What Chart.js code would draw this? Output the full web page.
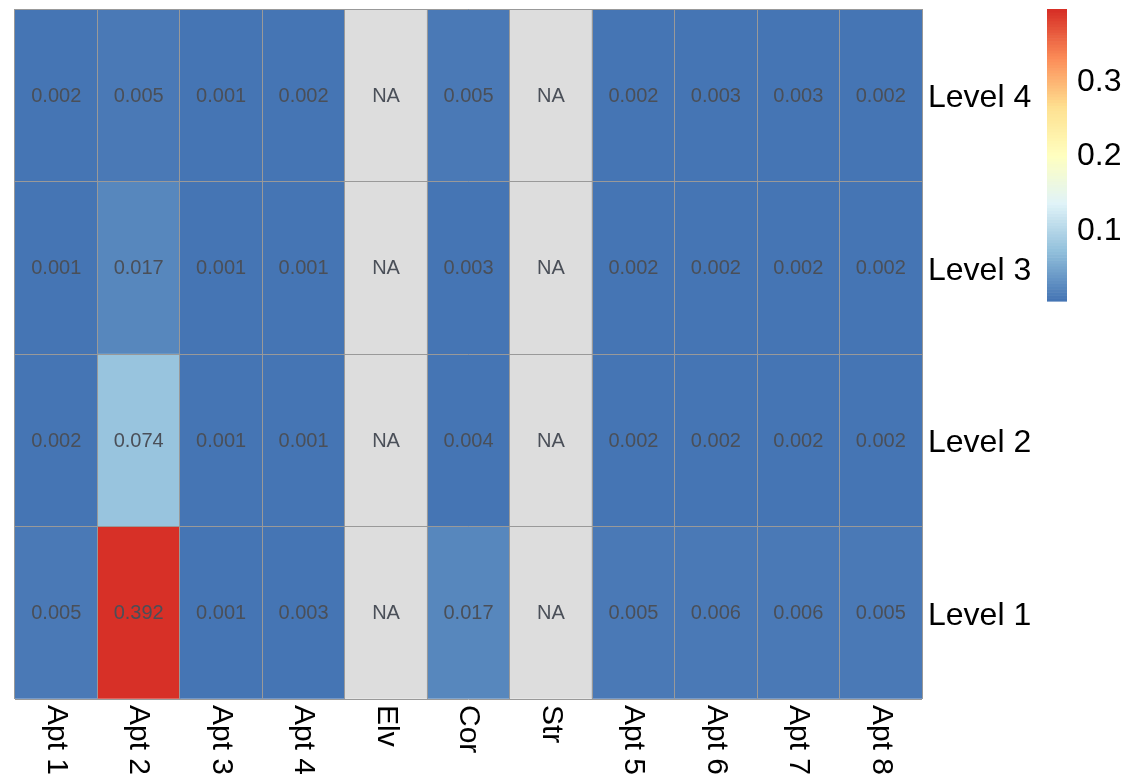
<!DOCTYPE html>
<html>
<head>
<meta charset="utf-8">
<script src="https://cdn.jsdelivr.net/npm/chart.js@4/dist/chart.umd.min.js"></script>
<style>
  html, body { margin: 0; padding: 0; background: #ffffff; }
  #wrap { width: 1127px; height: 783px; }
</style>
</head>
<body>
<div id="wrap"><canvas id="c" width="1127" height="783"></canvas></div>
<script>
// ---- data ----
const columns = ['Apt 1','Apt 2','Apt 3','Apt 4','Elv','Cor','Str','Apt 5','Apt 6','Apt 7','Apt 8'];
const rowLabels = ['Level 4','Level 3','Level 2','Level 1'];
const level4 = [0.002, 0.005, 0.001, 0.002, null, 0.005, null, 0.002, 0.003, 0.003, 0.002];
const level3 = [0.001, 0.017, 0.001, 0.001, null, 0.003, null, 0.002, 0.002, 0.002, 0.002];
const level2 = [0.002, 0.074, 0.001, 0.001, null, 0.004, null, 0.002, 0.002, 0.002, 0.002];
const level1 = [0.005, 0.392, 0.001, 0.003, null, 0.017, null, 0.005, 0.006, 0.006, 0.005];
const legendTicks = [0.1, 0.2, 0.3];

// ---- colour scale (reversed RdYlBu, 100 steps) ----
const pal7 = ['#4575B4','#91BFDB','#E0F3F8','#FFFFBF','#FEE090','#FC8D59','#D73027'];
function hex2rgb(h){ return [parseInt(h.slice(1,3),16),parseInt(h.slice(3,5),16),parseInt(h.slice(5,7),16)]; }
function ramp(n){
  const out = [];
  for (let i = 0; i < n; i++) {
    const p = i/(n-1)*(pal7.length-1);
    const k = Math.min(Math.floor(p), pal7.length-2);
    const f = p - k;
    const a = hex2rgb(pal7[k]), b = hex2rgb(pal7[k+1]);
    const c = a.map((v,j)=>Math.round(v+(b[j]-v)*f));
    out.push('rgb('+c.join(',')+')');
  }
  return out;
}
const palette = ramp(100);
const allVals = [].concat(level1, level2, level3, level4).filter(v => v !== null);
const vmin = Math.min(...allVals), vmax = Math.max(...allVals);
const NA_COLOR = '#DDDDDD';
function colorFor(v){
  if (v === null) return NA_COLOR;
  let idx = Math.floor((v - vmin)/(vmax - vmin)*100);
  idx = Math.max(0, Math.min(99, idx));
  return palette[idx];
}

const FONT = "'Liberation Sans', Arial, Helvetica, sans-serif";
const rowsBottomUp = [level1, level2, level3, level4];

const datasets = rowsBottomUp.map((vals, r) => ({
  label: rowLabels[3 - r],
  values: vals,
  data: vals.map(() => 1),
  backgroundColor: vals.map(colorFor),
  borderWidth: 0,
  barPercentage: 1.0,
  categoryPercentage: 1.0,
  stack: 's'
}));

// cell text plugin
const cellText = {
  id: 'cellText',
  afterDraw(chart) {
    const ctx = chart.ctx;
    ctx.save();
    ctx.font = '20px ' + FONT;
    ctx.fillStyle = '#4A4F58';
    ctx.textAlign = 'center';
    ctx.textBaseline = 'middle';
    chart.data.datasets.forEach((ds, di) => {
      const meta = chart.getDatasetMeta(di);
      meta.data.forEach((el, i) => {
        const v = ds.values[i];
        const txt = v === null ? 'NA' : v.toFixed(3);
        ctx.fillText(txt, el.x, (el.y + el.base) / 2 + 1);
      });
    });
    ctx.restore();
  }
};

// rotated x labels
const xLabels = {
  id: 'xLabels',
  afterDraw(chart) {
    const ctx = chart.ctx, xs = chart.scales.x, area = chart.chartArea;
    ctx.save();
    ctx.font = '30px ' + FONT;
    ctx.fillStyle = '#000000';
    ctx.textAlign = 'left';
    ctx.textBaseline = 'middle';
    columns.forEach((lab, i) => {
      const x = xs.getPixelForValue(i);
      ctx.save();
      ctx.translate(x, area.bottom + 6);
      ctx.rotate(Math.PI / 2);
      ctx.fillText(lab, 0, 0);
      ctx.restore();
    });
    ctx.restore();
  }
};

// colour bar legend
const colorBar = {
  id: 'colorBar',
  afterDraw(chart) {
    const ctx = chart.ctx, area = chart.chartArea;
    const x0 = area.right + 125, w = 20, top = area.top, h = 292, bottom = top + h;
    ctx.save();
    const n = palette.length;
    for (let i = 0; i < n; i++) {
      const y1 = bottom - (i + 1) * h / n, y2 = bottom - i * h / n;
      ctx.fillStyle = palette[i];
      ctx.fillRect(x0, y1, w, y2 - y1 + 0.6);
    }
    ctx.font = '32px ' + FONT;
    ctx.fillStyle = '#000000';
    ctx.textAlign = 'left';
    ctx.textBaseline = 'middle';
    legendTicks.forEach(t => {
      const y = bottom - (t - vmin) / (vmax - vmin) * h;
      ctx.fillText(t.toFixed(1), x0 + w + 10, y + 4);
    });
    ctx.restore();
  }
};

function noPad(s) { s.paddingTop = 0; s.paddingBottom = 0; s.paddingLeft = 0; s.paddingRight = 0; }

new Chart(document.getElementById('c'), {
  type: 'bar',
  data: { labels: columns, datasets: datasets },
  options: {
    responsive: false,
    animation: false,
    events: [],
    layout: { padding: { left: 15, top: 9, right: 0, bottom: 84 } },
    plugins: { legend: { display: false }, tooltip: { enabled: false } },
    scales: {
      x: {
        type: 'category',
        stacked: true,
        offset: true,
        grid: { offset: true, color: '#999999', lineWidth: 1, drawTicks: false, z: 1 },
        border: { display: false },
        ticks: { display: false },
        afterFit(s) { noPad(s); s.height = 0; }
      },
      y: {
        type: 'linear',
        stacked: true,
        position: 'left',
        min: 0, max: 4,
        grid: { color: '#999999', lineWidth: 1, drawTicks: false, z: 1 },
        border: { display: false },
        ticks: { display: false, stepSize: 1 },
        afterFit(s) { noPad(s); s.width = 0; }
      },
      yL: {
        type: 'category',
        position: 'right',
        labels: rowLabels,
        offset: true,
        grid: { display: false, drawTicks: false },
        border: { display: false },
        ticks: { color: '#000000', font: { size: 32, family: FONT }, padding: 6, labelOffset: 3 },
        afterFit(s) { noPad(s); s.width = 205; }
      }
    }
  },
  plugins: [cellText, xLabels, colorBar]
});
</script>
</body>
</html>
